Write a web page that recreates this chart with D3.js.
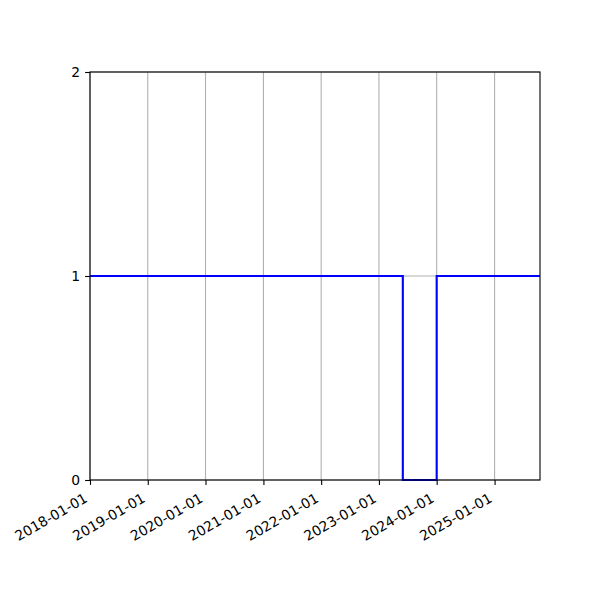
<!DOCTYPE html>
<html>
<head>
<meta charset="utf-8">
<script src="https://cdn.jsdelivr.net/npm/d3@7"></script>
<style>
body { margin: 0; background: #fff; }
text { font-family: "DejaVu Sans", sans-serif; font-size: 13.9px; fill: #000; }
</style>
</head>
<body>
<script>
// step series
const dates = ["2018-01-01", "2023-06-01", "2024-01-01", "2025-10-15"]
const values = [1, 0, 1, 1]
const yTicks = [0, 1, 2]
const xTickDates = ["2018-01-01", "2019-01-01", "2020-01-01", "2021-01-01", "2022-01-01", "2023-01-01", "2024-01-01", "2025-01-01"]

const width = 600
const height = 600
const padL = 90, padR = 540, padT = 72, padB = 480

const parse = d3.timeParse("%Y-%m-%d")
const fmt = d3.timeFormat("%Y-%m-%d")
const data = dates.map((d, i) => ({date: parse(d), value: values[i]}))

const svg = d3.select("body")
    .append("svg")
    .attr("width", width)
    .attr("height", height)

const xScale = d3.scaleTime().domain([parse(dates[0]), parse(dates[dates.length - 1])]).range([padL, padR])
const yScale = d3.scaleLinear().domain([0, 2]).range([padB, padT])

// grid
svg.append("g")
    .selectAll("line")
    .data(xTickDates.map(parse))
    .enter()
    .append("line")
    .attr("x1", d => xScale(d)).attr("x2", d => xScale(d))
    .attr("y1", padT).attr("y2", padB)
    .attr("stroke", "#b0b0b0").attr("stroke-width", 1.1)

svg.append("g")
    .selectAll("line")
    .data(yTicks)
    .enter()
    .append("line")
    .attr("x1", padL).attr("x2", padR)
    .attr("y1", d => yScale(d)).attr("y2", d => yScale(d))
    .attr("stroke", "#b0b0b0").attr("stroke-width", 1.1)

// the step line
const line = d3.line()
    .x(d => xScale(d.date))
    .y(d => yScale(d.value))
    .curve(d3.curveStepAfter)

svg.append("path")
    .datum(data)
    .attr("d", line)
    .attr("fill", "none")
    .attr("stroke", "#0000ff")
    .attr("stroke-width", 2.1)

// frame
svg.append("rect")
    .attr("x", padL).attr("y", padT)
    .attr("width", padR - padL).attr("height", padB - padT)
    .attr("fill", "none").attr("stroke", "#000").attr("stroke-width", 1.1)

const xAxis = d3.axisBottom(xScale)
    .tickValues(xTickDates.map(parse))
    .tickFormat(fmt)
    .tickSize(4.9)
    .tickSizeOuter(0)
const gx = svg.append("g")
    .attr("transform", "translate(0," + padB + ")")
    .call(xAxis)
gx.select(".domain").remove()
gx.selectAll(".tick line").attr("stroke", "#000").attr("stroke-width", 1.1)
gx.selectAll(".tick text")
    .attr("text-anchor", "end")
    .attr("y", 0).attr("dy", 0)
    .attr("transform", "translate(-2,21) rotate(-30)")
    .style("font-size", "13.9px")

const yAxis = d3.axisLeft(yScale)
    .tickValues(yTicks)
    .tickFormat(d3.format("d"))
    .tickSize(4.9)
    .tickPadding(4.9)
    .tickSizeOuter(0)
const gy = svg.append("g")
    .attr("transform", "translate(" + padL + ",0)")
    .call(yAxis)
gy.select(".domain").remove()
gy.selectAll(".tick line").attr("stroke", "#000").attr("stroke-width", 1.1)
gy.selectAll(".tick text").style("font-size", "13.9px")
</script>
</body>
</html>
